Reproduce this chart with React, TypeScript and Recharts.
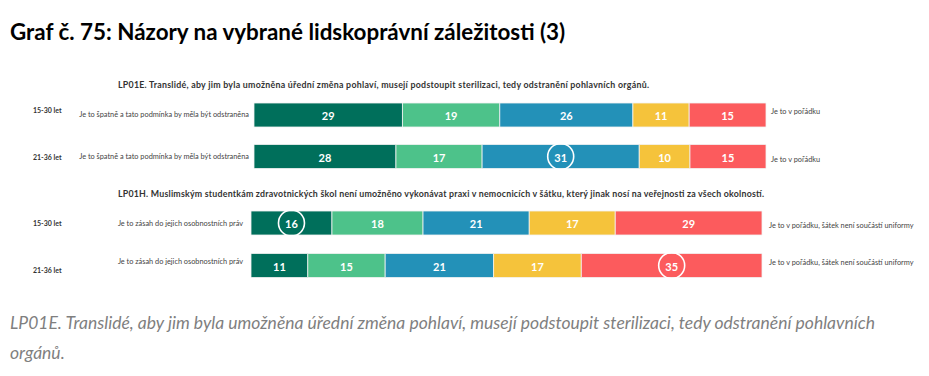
import React from "react";
import { BarChart, Bar, XAxis, YAxis, LabelList } from "recharts";

// ---- data ----
const titleText = "Graf č. 75: Názory na vybrané lidskoprávní záležitosti (3)";
const captionLines = [
  "LP01E. Translidé, aby jim byla umožněna úřední změna pohlaví, musejí podstoupit sterilizaci, tedy odstranění pohlavních",
  "orgánů.",
];

const questionA = "LP01E. Translidé, aby jim byla umožněna úřední změna pohlaví, musejí podstoupit sterilizaci, tedy odstranění pohlavních orgánů.";
const questionB = "LP01H. Muslimským studentkám zdravotnických škol není umožněno vykonávat praxi v nemocnicích v šátku, který jinak nosí na veřejnosti za všech okolností.";

const ageGroups = ["15-30 let", "21-36 let"];

const leftAnswersA = ["Je to špatně a tato podmínka by měla být odstraněna", "Je to špatně a tato podmínka by měla být odstraněna"];
const rightAnswersA = ["Je to v pořádku", "Je to v pořádku"];
const leftAnswersB = ["Je to zásah do jejich osobnostních práv", "Je to zásah do jejich osobnostních práv"];
const rightAnswersB = ["Je to v pořádku, šátek není součástí uniformy", "Je to v pořádku, šátek není součástí uniformy"];

const s1A = [29, 28];
const s2A = [19, 17];
const s3A = [26, 31];
const s4A = [11, 10];
const s5A = [15, 15];
const highlightA = ["", "s3"];

const s1B = [16, 11];
const s2B = [18, 15];
const s3B = [21, 21];
const s4B = [17, 17];
const s5B = [29, 35];
const highlightB = ["s1", "s5"];

const seriesKeys = ["s1", "s2", "s3", "s4", "s5"];
const seriesColors = ["#006F5B", "#4DC28A", "#2391B8", "#F5C33B", "#FC5B5D"];

const FONT = "Lato, 'Open Sans', sans-serif";

function buildData(prefix: string, cols: number[][]) {
  return ageGroups.map((g, i) => {
    const row: any = { row: prefix + i };
    seriesKeys.forEach((k, j) => (row[k] = cols[j][i]));
    return row;
  });
}

const dataA = buildData("A", [s1A, s2A, s3A, s4A, s5A]);
const dataB = buildData("B", [s1B, s2B, s3B, s4B, s5B]);

type Cfg = {
  data: any[];
  top: number;
  height: number;
  leftW: number;
  rightW: number;
  leftAnswers: string[];
  rightAnswers: string[];
  highlight: string[];
  ageDy: number[];
  ansDy: number[];
  rightDy: number[];
  ansEnd: number;
  rightStart: number;
};

function makeLeftTick(cfg: Cfg) {
  return (props: any) => {
    const { y, payload } = props;
    const i = payload.index ?? 0;
    return (
      <g>
        <text x={33} y={y + cfg.ageDy[i]} fontFamily={FONT} fontSize={7} fontWeight={700} fill="#333" dominantBaseline="central">
          {ageGroups[i]}
        </text>
        <text x={cfg.ansEnd} y={y + cfg.ansDy[i]} fontFamily={FONT} fontSize={7.35} fill="#444" textAnchor="end" dominantBaseline="central">
          {cfg.leftAnswers[i]}
        </text>
      </g>
    );
  };
}

function makeRightTick(cfg: Cfg) {
  return (props: any) => {
    const { y, payload } = props;
    const i = payload.index ?? 0;
    return (
      <text x={cfg.rightStart} y={y + cfg.rightDy[i]} fontFamily={FONT} fontSize={7.35} fill="#444" textAnchor="start" dominantBaseline="central">
        {cfg.rightAnswers[i]}
      </text>
    );
  };
}

function makeLabel(key: string, cfg: Cfg) {
  return (props: any) => {
    const { x, y, width, height, value, index } = props;
    const cx = Number(x) + Number(width) / 2;
    const cy = Number(y) + Number(height) / 2;
    const hl = cfg.highlight[index] === key;
    return (
      <g>
        {hl && <circle cx={cx} cy={cy} r={13} fill="none" stroke="#ffffff" strokeWidth={1.6} />}
        <text x={cx} y={cy + 0.5} fill="#ffffff" fontFamily={FONT} fontSize={11} fontWeight={700} textAnchor="middle" dominantBaseline="central">
          {value}
        </text>
      </g>
    );
  };
}

function StackChart({ cfg }: { cfg: Cfg }) {
  return (
    <div style={{ position: "absolute", left: 0, top: cfg.top }}>
      <BarChart
        width={929}
        height={cfg.height}
        data={cfg.data}
        layout="vertical"
        stackOffset="expand"
        margin={{ top: 0, right: 0, bottom: 0, left: 0 }}
        barSize={24}
      >
        <XAxis type="number" hide domain={[0, 1]} />
        <YAxis yAxisId="left" type="category" dataKey="row" width={cfg.leftW} axisLine={false} tickLine={false} tick={makeLeftTick(cfg)} interval={0} />
        <YAxis yAxisId="right" orientation="right" type="category" dataKey="row" width={cfg.rightW} axisLine={false} tickLine={false} tick={makeRightTick(cfg)} interval={0} />
        {seriesKeys.map((k, j) => (
          <Bar key={k} dataKey={k} stackId="a" yAxisId="left" fill={seriesColors[j]} stroke="#f2f2f2" strokeWidth={0.8} isAnimationActive={false}>
            <LabelList dataKey={k} content={makeLabel(k, cfg)} />
          </Bar>
        ))}
      </BarChart>
    </div>
  );
}

const cfgA: Cfg = {
  data: dataA,
  top: 94,
  height: 83,
  leftW: 254,
  rightW: 163,
  leftAnswers: leftAnswersA,
  rightAnswers: rightAnswersA,
  highlight: highlightA,
  ageDy: [-4.5, 1],
  ansDy: [-0.7, 0],
  rightDy: [-3.5, 3],
  ansEnd: 249,
  rightStart: 771,
};

const cfgB: Cfg = {
  data: dataB,
  top: 202,
  height: 85,
  leftW: 251,
  rightW: 167,
  leftAnswers: leftAnswersB,
  rightAnswers: rightAnswersB,
  highlight: highlightB,
  ageDy: [0, 4.5],
  ansDy: [0.7, -4],
  rightDy: [2.4, -3],
  ansEnd: 243,
  rightStart: 769,
};

export default function App() {
  return (
    <div style={{ position: "absolute", left: 0, top: 0, width: 929, height: 376, background: "#ffffff", overflow: "hidden" }}>
      <svg width={929} height={376} style={{ position: "absolute", left: 0, top: 0 }}>
        <text x={10} y={31} fontFamily={FONT} fontSize={22.4} fontWeight={700} fill="#000" dominantBaseline="central">
          {titleText}
        </text>
        <text x={118} y={84.5} fontFamily={FONT} fontSize={8.8} fontWeight={700} fill="#333" dominantBaseline="central" textLength={531} lengthAdjust="spacing">
          {questionA}
        </text>
        <text x={118} y={193} fontFamily={FONT} fontSize={8.8} fontWeight={700} fill="#333" dominantBaseline="central" textLength={646} lengthAdjust="spacing">
          {questionB}
        </text>
        {captionLines.map((l, i) => (
          <text key={i} x={10} y={322 + i * 30} fontFamily={FONT} fontSize={17.5} fontStyle="italic" fill="#7F7F7F" dominantBaseline="central">
            {l}
          </text>
        ))}
      </svg>
      <StackChart cfg={cfgA} />
      <StackChart cfg={cfgB} />
    </div>
  );
}
